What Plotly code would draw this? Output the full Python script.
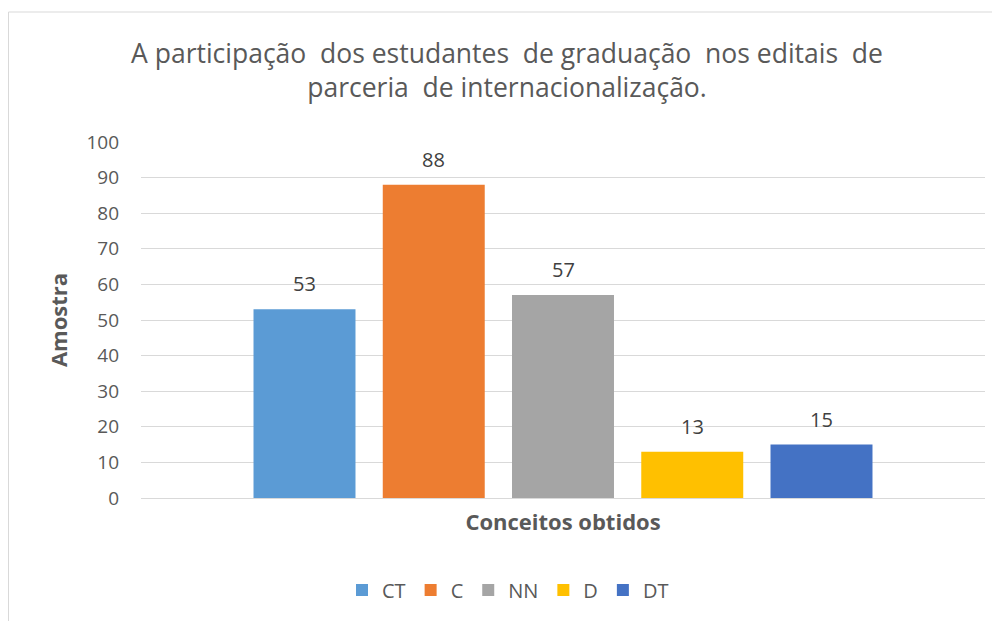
import plotly.graph_objects as go

series_names = ["CT", "C", "NN", "D", "DT"]
series_values = [53, 88, 57, 13, 15]
series_colors = ["#5B9BD5", "#ED7D31", "#A5A5A5", "#FFC000", "#4472C4"]
y_ticks = list(range(0, 101, 10))

W, H = 1000, 621
L, R, T, B = 133, 23, 134, 131
pw = W - L - R
ph = H - T - B
FONT = "Open Sans, Noto Sans, sans-serif"

fig = go.Figure()
for i, (name, val, col) in enumerate(zip(series_names, series_values, series_colors)):
    fig.add_trace(go.Bar(
        x=[i], y=[val], name=name, marker_color=col, marker_line_width=0,
        width=0.789, hoverinfo="name+y",
    ))
    fig.add_annotation(
        x=i, y=val, xref="x", yref="y", text=str(val), showarrow=False,
        yanchor="bottom", yshift=10,
        font=dict(family=FONT, size=20, color="#404040"),
    )

def px_x(x):
    return (x - L) / pw

def px_y(y):
    return (H - B - y) / ph

fig.update_layout(
    width=W, height=H,
    margin=dict(l=L, r=R, t=T, b=B),
    paper_bgcolor="white", plot_bgcolor="white",
    barmode="overlay",
    title=dict(
        text="A participação  dos estudantes  de graduação  nos editais  de<br>parceria  de internacionalização.",
        x=0.499, xanchor="center", xref="container", y=1 - 55 / H, yref="container", yanchor="middle",
        font=dict(family=FONT, size=26.5, color="#595959"),
    ),
    showlegend=True,
    legend=dict(
        orientation="h", x=px_x(500), xanchor="center", y=px_y(582), yanchor="middle",
        font=dict(family=FONT, size=20, color="#595959"),
        itemwidth=30, traceorder="normal",
    ),
    xaxis=dict(
        range=[-1.265, 5.265], showticklabels=False, showgrid=False, zeroline=False, showline=False,
        ticks="",
        title=dict(text="<b>Conceitos obtidos</b>", standoff=16,
                   font=dict(family=FONT, size=22, color="#595959")),
    ),
    yaxis=dict(
        range=[0, 100], tickvals=y_ticks, ticktext=[str(v) for v in y_ticks],
        showgrid=True, gridcolor="#D9D9D9", gridwidth=1,
        zeroline=True, zerolinecolor="#D9D9D9", zerolinewidth=1,
        showline=False, ticks="", ticklabelstandoff=21,
        tickfont=dict(family=FONT, size=19, color="#595959"),
        title=dict(text="<b>Amostra</b>", standoff=12,
                   font=dict(family=FONT, size=22, color="#595959")),
    ),
    shapes=[dict(
        type="rect", xref="paper", yref="paper",
        x0=px_x(0.5), x1=px_x(1010), y0=px_y(640), y1=px_y(4),
        line=dict(color="#D9D9D9", width=1), fillcolor="rgba(0,0,0,0)", layer="below",
    )],
)

fig.write_html("out.html")
